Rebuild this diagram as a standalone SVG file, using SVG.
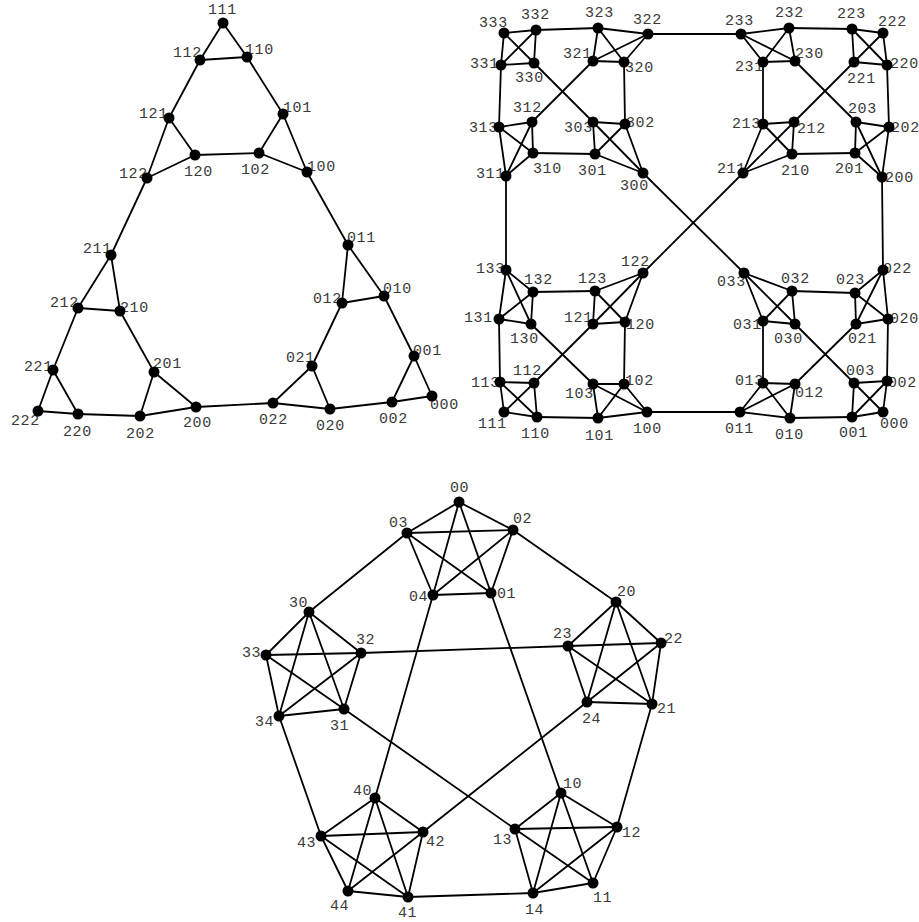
<svg xmlns="http://www.w3.org/2000/svg" width="919" height="922" viewBox="0 0 919 922">
<style>
.c line{stroke:#000;stroke-width:1.8;stroke-linecap:round}
circle{fill:#000}
text{font-family:"Liberation Mono","DejaVu Sans Mono",monospace;font-size:15px;fill:#3a3a3a;letter-spacing:0.6px}
</style>
<rect width="919" height="922" fill="#fff"/>
<g id="connectors" class="c">
<line x1="223" y1="23" x2="200" y2="60"/><line x1="223" y1="23" x2="247" y2="57"/><line x1="200" y1="60" x2="247" y2="57"/>
<line x1="247" y1="57" x2="283" y2="114"/><line x1="200" y1="60" x2="169" y2="118"/>
<line x1="283" y1="114" x2="307" y2="172"/><line x1="283" y1="114" x2="259" y2="153"/><line x1="307" y1="172" x2="259" y2="153"/>
<line x1="259" y1="153" x2="195" y2="155"/>
<line x1="169" y1="118" x2="195" y2="155"/><line x1="169" y1="118" x2="147" y2="178"/><line x1="147" y1="178" x2="195" y2="155"/>
<line x1="307" y1="172" x2="348" y2="245"/><line x1="147" y1="178" x2="111" y2="255"/>
<line x1="348" y1="245" x2="384" y2="296"/><line x1="348" y1="245" x2="342" y2="303"/><line x1="342" y1="303" x2="384" y2="296"/>
<line x1="384" y1="296" x2="414" y2="356"/><line x1="342" y1="303" x2="312" y2="366"/>
<line x1="414" y1="356" x2="432" y2="396"/><line x1="414" y1="356" x2="392" y2="402"/><line x1="392" y1="402" x2="432" y2="396"/>
<line x1="312" y1="366" x2="273" y2="403"/><line x1="312" y1="366" x2="330" y2="409"/><line x1="273" y1="403" x2="330" y2="409"/>
<line x1="330" y1="409" x2="392" y2="402"/>
<line x1="111" y1="255" x2="78" y2="308"/><line x1="111" y1="255" x2="120" y2="311"/><line x1="78" y1="308" x2="120" y2="311"/>
<line x1="78" y1="308" x2="53" y2="370"/><line x1="120" y1="311" x2="154" y2="372"/>
<line x1="53" y1="370" x2="38" y2="411"/><line x1="53" y1="370" x2="78" y2="414"/><line x1="38" y1="411" x2="78" y2="414"/>
<line x1="78" y1="414" x2="140" y2="416"/>
<line x1="154" y1="372" x2="140" y2="416"/><line x1="154" y1="372" x2="196" y2="407"/><line x1="140" y1="416" x2="196" y2="407"/>
<line x1="196" y1="407" x2="273" y2="403"/>
<line x1="504" y1="33" x2="536" y2="30"/><line x1="504" y1="33" x2="501" y2="65"/><line x1="504" y1="33" x2="534" y2="63"/><line x1="536" y1="30" x2="501" y2="65"/><line x1="536" y1="30" x2="534" y2="63"/><line x1="501" y1="65" x2="534" y2="63"/>
<line x1="598" y1="28" x2="648" y2="34"/><line x1="598" y1="28" x2="593" y2="61"/><line x1="598" y1="28" x2="624" y2="62"/><line x1="648" y1="34" x2="593" y2="61"/><line x1="648" y1="34" x2="624" y2="62"/><line x1="593" y1="61" x2="624" y2="62"/>
<line x1="499" y1="127" x2="532" y2="122"/><line x1="499" y1="127" x2="506" y2="176"/><line x1="499" y1="127" x2="533" y2="153"/><line x1="532" y1="122" x2="506" y2="176"/><line x1="532" y1="122" x2="533" y2="153"/><line x1="506" y1="176" x2="533" y2="153"/>
<line x1="593" y1="122" x2="625" y2="124"/><line x1="593" y1="122" x2="595" y2="154"/><line x1="593" y1="122" x2="643" y2="173"/><line x1="625" y1="124" x2="595" y2="154"/><line x1="625" y1="124" x2="643" y2="173"/><line x1="595" y1="154" x2="643" y2="173"/>
<line x1="741" y1="34" x2="789" y2="28"/><line x1="741" y1="34" x2="763" y2="62"/><line x1="741" y1="34" x2="795" y2="61"/><line x1="789" y1="28" x2="763" y2="62"/><line x1="789" y1="28" x2="795" y2="61"/><line x1="763" y1="62" x2="795" y2="61"/>
<line x1="852" y1="29" x2="883" y2="33"/><line x1="852" y1="29" x2="854" y2="62"/><line x1="852" y1="29" x2="887" y2="65"/><line x1="883" y1="33" x2="854" y2="62"/><line x1="883" y1="33" x2="887" y2="65"/><line x1="854" y1="62" x2="887" y2="65"/>
<line x1="763" y1="124" x2="794" y2="122"/><line x1="763" y1="124" x2="743" y2="173"/><line x1="763" y1="124" x2="792" y2="154"/><line x1="794" y1="122" x2="743" y2="173"/><line x1="794" y1="122" x2="792" y2="154"/><line x1="743" y1="173" x2="792" y2="154"/>
<line x1="856" y1="122" x2="889" y2="127"/><line x1="856" y1="122" x2="855" y2="153"/><line x1="856" y1="122" x2="882" y2="177"/><line x1="889" y1="127" x2="855" y2="153"/><line x1="889" y1="127" x2="882" y2="177"/><line x1="855" y1="153" x2="882" y2="177"/>
<line x1="506" y1="270" x2="533" y2="292"/><line x1="506" y1="270" x2="499" y2="319"/><line x1="506" y1="270" x2="531" y2="324"/><line x1="533" y1="292" x2="499" y2="319"/><line x1="533" y1="292" x2="531" y2="324"/><line x1="499" y1="319" x2="531" y2="324"/>
<line x1="595" y1="291" x2="643" y2="273"/><line x1="595" y1="291" x2="593" y2="324"/><line x1="595" y1="291" x2="625" y2="322"/><line x1="643" y1="273" x2="593" y2="324"/><line x1="643" y1="273" x2="625" y2="322"/><line x1="593" y1="324" x2="625" y2="322"/>
<line x1="500" y1="382" x2="534" y2="383"/><line x1="500" y1="382" x2="504" y2="412"/><line x1="500" y1="382" x2="537" y2="417"/><line x1="534" y1="383" x2="504" y2="412"/><line x1="534" y1="383" x2="537" y2="417"/><line x1="504" y1="412" x2="537" y2="417"/>
<line x1="593" y1="384" x2="624" y2="384"/><line x1="593" y1="384" x2="598" y2="418"/><line x1="593" y1="384" x2="647" y2="412"/><line x1="624" y1="384" x2="598" y2="418"/><line x1="624" y1="384" x2="647" y2="412"/><line x1="598" y1="418" x2="647" y2="412"/>
<line x1="744" y1="273" x2="792" y2="291"/><line x1="744" y1="273" x2="763" y2="321"/><line x1="744" y1="273" x2="795" y2="324"/><line x1="792" y1="291" x2="763" y2="321"/><line x1="792" y1="291" x2="795" y2="324"/><line x1="763" y1="321" x2="795" y2="324"/>
<line x1="855" y1="293" x2="883" y2="270"/><line x1="855" y1="293" x2="856" y2="324"/><line x1="855" y1="293" x2="888" y2="319"/><line x1="883" y1="270" x2="856" y2="324"/><line x1="883" y1="270" x2="888" y2="319"/><line x1="856" y1="324" x2="888" y2="319"/>
<line x1="763" y1="383" x2="795" y2="384"/><line x1="763" y1="383" x2="740" y2="412"/><line x1="763" y1="383" x2="790" y2="418"/><line x1="795" y1="384" x2="740" y2="412"/><line x1="795" y1="384" x2="790" y2="418"/><line x1="740" y1="412" x2="790" y2="418"/>
<line x1="854" y1="383" x2="887" y2="381"/><line x1="854" y1="383" x2="852" y2="417"/><line x1="854" y1="383" x2="883" y2="412"/><line x1="887" y1="381" x2="852" y2="417"/><line x1="887" y1="381" x2="883" y2="412"/><line x1="852" y1="417" x2="883" y2="412"/>
<line x1="536" y1="30" x2="598" y2="28"/><line x1="501" y1="65" x2="499" y2="127"/><line x1="534" y1="63" x2="593" y2="122"/><line x1="593" y1="61" x2="532" y2="122"/><line x1="624" y1="62" x2="625" y2="124"/><line x1="533" y1="153" x2="595" y2="154"/>
<line x1="789" y1="28" x2="852" y2="29"/><line x1="763" y1="62" x2="763" y2="124"/><line x1="795" y1="61" x2="856" y2="122"/><line x1="854" y1="62" x2="794" y2="122"/><line x1="887" y1="65" x2="889" y2="127"/><line x1="792" y1="154" x2="855" y2="153"/>
<line x1="533" y1="292" x2="595" y2="291"/><line x1="499" y1="319" x2="500" y2="382"/><line x1="531" y1="324" x2="593" y2="384"/><line x1="593" y1="324" x2="534" y2="383"/><line x1="625" y1="322" x2="624" y2="384"/><line x1="537" y1="417" x2="598" y2="418"/>
<line x1="792" y1="291" x2="855" y2="293"/><line x1="763" y1="321" x2="763" y2="383"/><line x1="795" y1="324" x2="854" y2="383"/><line x1="856" y1="324" x2="795" y2="384"/><line x1="888" y1="319" x2="887" y2="381"/><line x1="790" y1="418" x2="852" y2="417"/>
<line x1="648" y1="34" x2="741" y2="34"/><line x1="506" y1="176" x2="506" y2="270"/><line x1="643" y1="173" x2="744" y2="273"/><line x1="743" y1="173" x2="643" y2="273"/><line x1="882" y1="177" x2="883" y2="270"/><line x1="647" y1="412" x2="740" y2="412"/>
<line x1="459" y1="502" x2="491" y2="593"/><line x1="459" y1="502" x2="513" y2="530"/><line x1="459" y1="502" x2="407" y2="533"/><line x1="459" y1="502" x2="433" y2="595"/><line x1="491" y1="593" x2="513" y2="530"/><line x1="491" y1="593" x2="407" y2="533"/><line x1="491" y1="593" x2="433" y2="595"/><line x1="513" y1="530" x2="407" y2="533"/><line x1="513" y1="530" x2="433" y2="595"/><line x1="407" y1="533" x2="433" y2="595"/>
<line x1="561" y1="793" x2="593" y2="883"/><line x1="561" y1="793" x2="617" y2="827"/><line x1="561" y1="793" x2="515" y2="829"/><line x1="561" y1="793" x2="533" y2="893"/><line x1="593" y1="883" x2="617" y2="827"/><line x1="593" y1="883" x2="515" y2="829"/><line x1="593" y1="883" x2="533" y2="893"/><line x1="617" y1="827" x2="515" y2="829"/><line x1="617" y1="827" x2="533" y2="893"/><line x1="515" y1="829" x2="533" y2="893"/>
<line x1="616" y1="602" x2="652" y2="704"/><line x1="616" y1="602" x2="661" y2="643"/><line x1="616" y1="602" x2="568" y2="646"/><line x1="616" y1="602" x2="587" y2="702"/><line x1="652" y1="704" x2="661" y2="643"/><line x1="652" y1="704" x2="568" y2="646"/><line x1="652" y1="704" x2="587" y2="702"/><line x1="661" y1="643" x2="568" y2="646"/><line x1="661" y1="643" x2="587" y2="702"/><line x1="568" y1="646" x2="587" y2="702"/>
<line x1="309" y1="612" x2="344" y2="709"/><line x1="309" y1="612" x2="361" y2="653"/><line x1="309" y1="612" x2="266" y2="655"/><line x1="309" y1="612" x2="279" y2="716"/><line x1="344" y1="709" x2="361" y2="653"/><line x1="344" y1="709" x2="266" y2="655"/><line x1="344" y1="709" x2="279" y2="716"/><line x1="361" y1="653" x2="266" y2="655"/><line x1="361" y1="653" x2="279" y2="716"/><line x1="266" y1="655" x2="279" y2="716"/>
<line x1="375" y1="798" x2="408" y2="897"/><line x1="375" y1="798" x2="423" y2="832"/><line x1="375" y1="798" x2="321" y2="836"/><line x1="375" y1="798" x2="348" y2="891"/><line x1="408" y1="897" x2="423" y2="832"/><line x1="408" y1="897" x2="321" y2="836"/><line x1="408" y1="897" x2="348" y2="891"/><line x1="423" y1="832" x2="321" y2="836"/><line x1="423" y1="832" x2="348" y2="891"/><line x1="321" y1="836" x2="348" y2="891"/>
<line x1="407" y1="533" x2="309" y2="612"/><line x1="513" y1="530" x2="616" y2="602"/><line x1="433" y1="595" x2="375" y2="798"/><line x1="491" y1="593" x2="561" y2="793"/><line x1="361" y1="653" x2="568" y2="646"/><line x1="279" y1="716" x2="321" y2="836"/><line x1="344" y1="709" x2="515" y2="829"/><line x1="587" y1="702" x2="423" y2="832"/><line x1="652" y1="704" x2="617" y2="827"/><line x1="408" y1="897" x2="533" y2="893"/>
</g>
<g id="a111"><text x="208" y="14">111</text><circle cx="223" cy="23" r="5.5"/></g>
<g id="a112"><text x="173" y="57">112</text><circle cx="200" cy="60" r="5.5"/></g>
<g id="a110"><text x="245" y="54">110</text><circle cx="247" cy="57" r="5.5"/></g>
<g id="a121"><text x="139" y="118">121</text><circle cx="169" cy="118" r="5.5"/></g>
<g id="a101"><text x="283" y="112">101</text><circle cx="283" cy="114" r="5.5"/></g>
<g id="a120"><text x="184" y="176">120</text><circle cx="195" cy="155" r="5.5"/></g>
<g id="a102"><text x="241" y="174">102</text><circle cx="259" cy="153" r="5.5"/></g>
<g id="a122"><text x="119" y="178">122</text><circle cx="147" cy="178" r="5.5"/></g>
<g id="a100"><text x="307" y="171">100</text><circle cx="307" cy="172" r="5.5"/></g>
<g id="a211"><text x="83" y="253">211</text><circle cx="111" cy="255" r="5.5"/></g>
<g id="a212"><text x="50" y="307">212</text><circle cx="78" cy="308" r="5.5"/></g>
<g id="a210"><text x="120" y="312">210</text><circle cx="120" cy="311" r="5.5"/></g>
<g id="a221"><text x="24" y="371">221</text><circle cx="53" cy="370" r="5.5"/></g>
<g id="a201"><text x="153" y="368">201</text><circle cx="154" cy="372" r="5.5"/></g>
<g id="a222"><text x="11" y="425">222</text><circle cx="38" cy="411" r="5.5"/></g>
<g id="a220"><text x="63" y="436">220</text><circle cx="78" cy="414" r="5.5"/></g>
<g id="a202"><text x="126" y="438">202</text><circle cx="140" cy="416" r="5.5"/></g>
<g id="a200"><text x="183" y="427">200</text><circle cx="196" cy="407" r="5.5"/></g>
<g id="a022"><text x="259" y="424">022</text><circle cx="273" cy="403" r="5.5"/></g>
<g id="a020"><text x="316" y="430">020</text><circle cx="330" cy="409" r="5.5"/></g>
<g id="a002"><text x="379" y="423">002</text><circle cx="392" cy="402" r="5.5"/></g>
<g id="a000"><text x="430" y="409">000</text><circle cx="432" cy="396" r="5.5"/></g>
<g id="a021"><text x="286" y="362">021</text><circle cx="312" cy="366" r="5.5"/></g>
<g id="a001"><text x="413" y="355">001</text><circle cx="414" cy="356" r="5.5"/></g>
<g id="a012"><text x="313" y="303">012</text><circle cx="342" cy="303" r="5.5"/></g>
<g id="a010"><text x="383" y="293">010</text><circle cx="384" cy="296" r="5.5"/></g>
<g id="a011"><text x="347" y="242">011</text><circle cx="348" cy="245" r="5.5"/></g>
<g id="b333"><text x="479" y="27">333</text><circle cx="504" cy="33" r="5.5"/></g>
<g id="b332"><text x="521" y="19">332</text><circle cx="536" cy="30" r="5.5"/></g>
<g id="b331"><text x="470" y="68">331</text><circle cx="501" cy="65" r="5.5"/></g>
<g id="b330"><text x="515" y="82">330</text><circle cx="534" cy="63" r="5.5"/></g>
<g id="b323"><text x="585" y="17">323</text><circle cx="598" cy="28" r="5.5"/></g>
<g id="b322"><text x="633" y="24">322</text><circle cx="648" cy="34" r="5.5"/></g>
<g id="b321"><text x="563" y="58">321</text><circle cx="593" cy="61" r="5.5"/></g>
<g id="b320"><text x="625" y="72">320</text><circle cx="624" cy="62" r="5.5"/></g>
<g id="b313"><text x="469" y="132">313</text><circle cx="499" cy="127" r="5.5"/></g>
<g id="b312"><text x="513" y="112">312</text><circle cx="532" cy="122" r="5.5"/></g>
<g id="b311"><text x="476" y="178">311</text><circle cx="506" cy="176" r="5.5"/></g>
<g id="b310"><text x="533" y="173">310</text><circle cx="533" cy="153" r="5.5"/></g>
<g id="b303"><text x="564" y="132">303</text><circle cx="593" cy="122" r="5.5"/></g>
<g id="b302"><text x="626" y="127">302</text><circle cx="625" cy="124" r="5.5"/></g>
<g id="b301"><text x="578" y="175">301</text><circle cx="595" cy="154" r="5.5"/></g>
<g id="b300"><text x="620" y="190">300</text><circle cx="643" cy="173" r="5.5"/></g>
<g id="b233"><text x="725" y="25">233</text><circle cx="741" cy="34" r="5.5"/></g>
<g id="b232"><text x="775" y="17">232</text><circle cx="789" cy="28" r="5.5"/></g>
<g id="b231"><text x="735" y="71">231</text><circle cx="763" cy="62" r="5.5"/></g>
<g id="b230"><text x="795" y="58">230</text><circle cx="795" cy="61" r="5.5"/></g>
<g id="b223"><text x="837" y="18">223</text><circle cx="852" cy="29" r="5.5"/></g>
<g id="b222"><text x="878" y="26">222</text><circle cx="883" cy="33" r="5.5"/></g>
<g id="b221"><text x="847" y="83">221</text><circle cx="854" cy="62" r="5.5"/></g>
<g id="b220"><text x="890" y="68">220</text><circle cx="887" cy="65" r="5.5"/></g>
<g id="b213"><text x="732" y="128">213</text><circle cx="763" cy="124" r="5.5"/></g>
<g id="b212"><text x="797" y="133">212</text><circle cx="794" cy="122" r="5.5"/></g>
<g id="b211"><text x="717" y="173">211</text><circle cx="743" cy="173" r="5.5"/></g>
<g id="b210"><text x="781" y="175">210</text><circle cx="792" cy="154" r="5.5"/></g>
<g id="b203"><text x="848" y="113">203</text><circle cx="856" cy="122" r="5.5"/></g>
<g id="b202"><text x="891" y="132">202</text><circle cx="889" cy="127" r="5.5"/></g>
<g id="b201"><text x="835" y="173">201</text><circle cx="855" cy="153" r="5.5"/></g>
<g id="b200"><text x="885" y="182">200</text><circle cx="882" cy="177" r="5.5"/></g>
<g id="b133"><text x="476" y="273">133</text><circle cx="506" cy="270" r="5.5"/></g>
<g id="b132"><text x="524" y="284">132</text><circle cx="533" cy="292" r="5.5"/></g>
<g id="b131"><text x="464" y="322">131</text><circle cx="499" cy="319" r="5.5"/></g>
<g id="b130"><text x="510" y="343">130</text><circle cx="531" cy="324" r="5.5"/></g>
<g id="b123"><text x="578" y="283">123</text><circle cx="595" cy="291" r="5.5"/></g>
<g id="b122"><text x="621" y="266">122</text><circle cx="643" cy="273" r="5.5"/></g>
<g id="b121"><text x="564" y="322">121</text><circle cx="593" cy="324" r="5.5"/></g>
<g id="b120"><text x="626" y="329">120</text><circle cx="625" cy="322" r="5.5"/></g>
<g id="b113"><text x="471" y="387">113</text><circle cx="500" cy="382" r="5.5"/></g>
<g id="b112"><text x="513" y="375">112</text><circle cx="534" cy="383" r="5.5"/></g>
<g id="b111"><text x="478" y="428">111</text><circle cx="504" cy="412" r="5.5"/></g>
<g id="b110"><text x="521" y="438">110</text><circle cx="537" cy="417" r="5.5"/></g>
<g id="b103"><text x="565" y="398">103</text><circle cx="593" cy="384" r="5.5"/></g>
<g id="b102"><text x="625" y="385">102</text><circle cx="624" cy="384" r="5.5"/></g>
<g id="b101"><text x="585" y="440">101</text><circle cx="598" cy="418" r="5.5"/></g>
<g id="b100"><text x="633" y="433">100</text><circle cx="647" cy="412" r="5.5"/></g>
<g id="b033"><text x="717" y="286">033</text><circle cx="744" cy="273" r="5.5"/></g>
<g id="b032"><text x="781" y="283">032</text><circle cx="792" cy="291" r="5.5"/></g>
<g id="b031"><text x="733" y="329">031</text><circle cx="763" cy="321" r="5.5"/></g>
<g id="b030"><text x="774" y="343">030</text><circle cx="795" cy="324" r="5.5"/></g>
<g id="b023"><text x="836" y="284">023</text><circle cx="855" cy="293" r="5.5"/></g>
<g id="b022"><text x="883" y="273">022</text><circle cx="883" cy="270" r="5.5"/></g>
<g id="b021"><text x="848" y="343">021</text><circle cx="856" cy="324" r="5.5"/></g>
<g id="b020"><text x="890" y="323">020</text><circle cx="888" cy="319" r="5.5"/></g>
<g id="b013"><text x="735" y="385">013</text><circle cx="763" cy="383" r="5.5"/></g>
<g id="b012"><text x="795" y="397">012</text><circle cx="795" cy="384" r="5.5"/></g>
<g id="b011"><text x="725" y="433">011</text><circle cx="740" cy="412" r="5.5"/></g>
<g id="b010"><text x="775" y="439">010</text><circle cx="790" cy="418" r="5.5"/></g>
<g id="b003"><text x="846" y="375">003</text><circle cx="854" cy="383" r="5.5"/></g>
<g id="b002"><text x="888" y="387">002</text><circle cx="887" cy="381" r="5.5"/></g>
<g id="b001"><text x="839" y="437">001</text><circle cx="852" cy="417" r="5.5"/></g>
<g id="b000"><text x="880" y="428">000</text><circle cx="883" cy="412" r="5.5"/></g>
<g id="c00"><text x="450" y="492">00</text><circle cx="459" cy="502" r="5.5"/></g>
<g id="c03"><text x="389" y="527">03</text><circle cx="407" cy="533" r="5.5"/></g>
<g id="c02"><text x="513" y="523">02</text><circle cx="513" cy="530" r="5.5"/></g>
<g id="c04"><text x="409" y="601">04</text><circle cx="433" cy="595" r="5.5"/></g>
<g id="c01"><text x="497" y="598">01</text><circle cx="491" cy="593" r="5.5"/></g>
<g id="c30"><text x="289" y="607">30</text><circle cx="309" cy="612" r="5.5"/></g>
<g id="c20"><text x="617" y="596">20</text><circle cx="616" cy="602" r="5.5"/></g>
<g id="c33"><text x="242" y="657">33</text><circle cx="266" cy="655" r="5.5"/></g>
<g id="c32"><text x="356" y="644">32</text><circle cx="361" cy="653" r="5.5"/></g>
<g id="c23"><text x="553" y="638">23</text><circle cx="568" cy="646" r="5.5"/></g>
<g id="c22"><text x="664" y="643">22</text><circle cx="661" cy="643" r="5.5"/></g>
<g id="c34"><text x="255" y="726">34</text><circle cx="279" cy="716" r="5.5"/></g>
<g id="c31"><text x="330" y="730">31</text><circle cx="344" cy="709" r="5.5"/></g>
<g id="c24"><text x="582" y="723">24</text><circle cx="587" cy="702" r="5.5"/></g>
<g id="c21"><text x="657" y="713">21</text><circle cx="652" cy="704" r="5.5"/></g>
<g id="c40"><text x="353" y="795">40</text><circle cx="375" cy="798" r="5.5"/></g>
<g id="c10"><text x="563" y="788">10</text><circle cx="561" cy="793" r="5.5"/></g>
<g id="c43"><text x="297" y="847">43</text><circle cx="321" cy="836" r="5.5"/></g>
<g id="c42"><text x="426" y="846">42</text><circle cx="423" cy="832" r="5.5"/></g>
<g id="c13"><text x="493" y="844">13</text><circle cx="515" cy="829" r="5.5"/></g>
<g id="c12"><text x="622" y="837">12</text><circle cx="617" cy="827" r="5.5"/></g>
<g id="c44"><text x="330" y="910">44</text><circle cx="348" cy="891" r="5.5"/></g>
<g id="c41"><text x="398" y="917">41</text><circle cx="408" cy="897" r="5.5"/></g>
<g id="c14"><text x="525" y="914">14</text><circle cx="533" cy="893" r="5.5"/></g>
<g id="c11"><text x="593" y="902">11</text><circle cx="593" cy="883" r="5.5"/></g>
</svg>
